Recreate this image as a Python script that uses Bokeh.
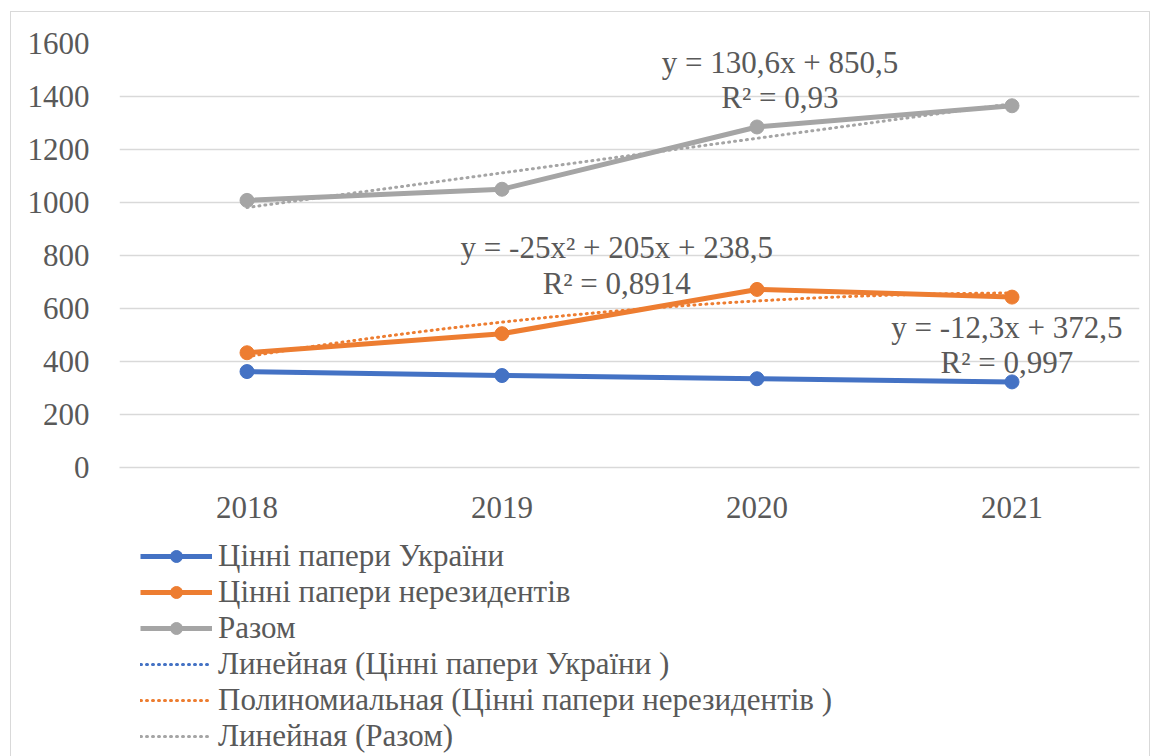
import numpy as np
from bokeh.plotting import figure
from bokeh.layouts import column
from bokeh.models import Range1d, FixedTicker, Legend, LegendItem
from bokeh.core.properties import value
from bokeh.embed import file_html
from bokeh.resources import INLINE

# ---- data ----
years = [2018, 2019, 2020, 2021]
ukraine = [362, 347, 335, 323]
nonres = [433, 505, 672, 643]
total = [1008, 1050, 1285, 1365]

# trendline coefficients as shown on chart (x = 1..4)
lin_ukraine = [-12.3, 372.5]          # slope, intercept
poly_nonres = [-25, 205, 238.5]       # a, b, c
lin_total = [130.6, 850.5]            # slope, intercept

lbl_ukraine = ["y = -12,3x + 372,5", "R² = 0,997"]
lbl_nonres = ["y = -25x² + 205x + 238,5", "R² = 0,8914"]
lbl_total = ["y = 130,6x + 850,5", "R² = 0,93"]

names = ["Цінні папери України", "Цінні папери нерезидентів", "Разом",
         "Линейная (Цінні папери України )",
         "Полиномиальная (Цінні папери нерезидентів )",
         "Линейная (Разом)"]

BLUE, ORANGE, GREY = "#4472C4", "#ED7D31", "#A5A5A5"
COLORS = [BLUE, ORANGE, GREY]
TXT = "#595959"
FONT = "Liberation Serif"
DASH = "1 5"

# ---------------- main chart ----------------
p = figure(width=1138, height=520, output_backend="svg", toolbar_location=None,
           x_range=Range1d(2017.5, 2021.5), y_range=Range1d(0, 1600),
           min_border_left=108, min_border_right=10, min_border_top=31,
           min_border_bottom=65)
p.outline_line_color = None
p.background_fill_color = "white"
p.border_fill_color = "white"

p.xgrid.grid_line_color = None
p.ygrid.grid_line_color = "#d9d9d9"
p.ygrid.grid_line_width = 1.5
p.yaxis.ticker = FixedTicker(ticks=[0, 200, 400, 600, 800, 1000, 1200, 1400, 1600])
p.xaxis.ticker = FixedTicker(ticks=years)
for ax in (p.xaxis, p.yaxis):
    ax.major_tick_line_color = None
    ax.minor_tick_line_color = None
    ax.major_label_text_font = FONT
    ax.major_label_text_font_size = "31px"
    ax.major_label_text_color = TXT
p.yaxis.axis_line_color = None
p.xaxis.axis_line_color = "#d9d9d9"
p.xaxis.axis_line_width = 1.5
p.yaxis.major_label_standoff = 24
p.xaxis.major_label_standoff = 23

# trendlines
xs_fine = np.linspace(1, 4, 61)
yrs_fine = xs_fine + 2017
t_uk = lin_ukraine[0] * xs_fine + lin_ukraine[1]
t_nr = poly_nonres[0] * xs_fine ** 2 + poly_nonres[1] * xs_fine + poly_nonres[2]
t_tt = lin_total[0] * xs_fine + lin_total[1]
trend_r = []
for tv, c in zip((t_uk, t_nr, t_tt), COLORS):
    trend_r.append(p.line(yrs_fine, tv, line_color=c, line_width=3, line_dash=DASH,
                          line_cap="round"))

for vals, c in zip((ukraine, nonres, total), COLORS):
    p.line(years, vals, line_color=c, line_width=5, line_join="round")
    p.scatter(years, vals, size=14, fill_color=c, line_color=c)

# trendline labels
def label(x, y1, y2, lines):
    p.text([x, x], [y1, y2], text=lines, text_align="center", text_baseline="middle",
           text_font=value(FONT), text_font_size="31px", text_color=TXT)

label(2020.09, 1528, 1396, lbl_total)
label(2019.45, 830, 694, lbl_nonres)
label(2020.98, 528, 396, lbl_ukraine)

# ---------------- legend panel ----------------
pl = figure(width=1138, height=224, output_backend="svg", toolbar_location=None,
            x_range=Range1d(0, 1), y_range=Range1d(0, 1),
            x_axis_location=None, y_axis_location=None,
            min_border_left=0, min_border_right=0, min_border_top=0,
            min_border_bottom=0)
pl.grid.grid_line_color = None
pl.outline_line_color = None
pl.background_fill_color = "white"
pl.border_fill_color = "white"

# legend proxies: same styles as the chart series, placed outside the visible range
off_x, off_y = [-5, -4], [-5, -4]
items = []
for i, c in enumerate(COLORS):
    l = pl.line(off_x, off_y, line_color=c, line_width=5)
    s = pl.scatter(off_x, off_y, size=14, fill_color=c, line_color=c)
    items.append(LegendItem(label=names[i], renderers=[l, s]))
for i, c in enumerate(COLORS):
    t = pl.line(off_x, off_y, line_color=c, line_width=3, line_dash=DASH, line_cap="round")
    items.append(LegendItem(label=names[3 + i], renderers=[t]))

leg = Legend(items=items, location=(21, 2), glyph_width=72, glyph_height=30,
             label_height=30, spacing=0, padding=0, margin=0, label_standoff=6,
             label_text_font=FONT, label_text_font_size="31px", label_text_color=TXT,
             border_line_color=None, background_fill_alpha=0)
pl.add_layout(leg)

col = column(p, pl, spacing=0,
             styles={"border-left": "1.5px solid #d9d9d9",
                     "border-top": "1.5px solid #d9d9d9",
                     "border-right": "1.5px solid #d9d9d9",
                     "margin-left": "10px", "margin-top": "11px"})

open("out.html", "w").write(file_html(col, INLINE))
